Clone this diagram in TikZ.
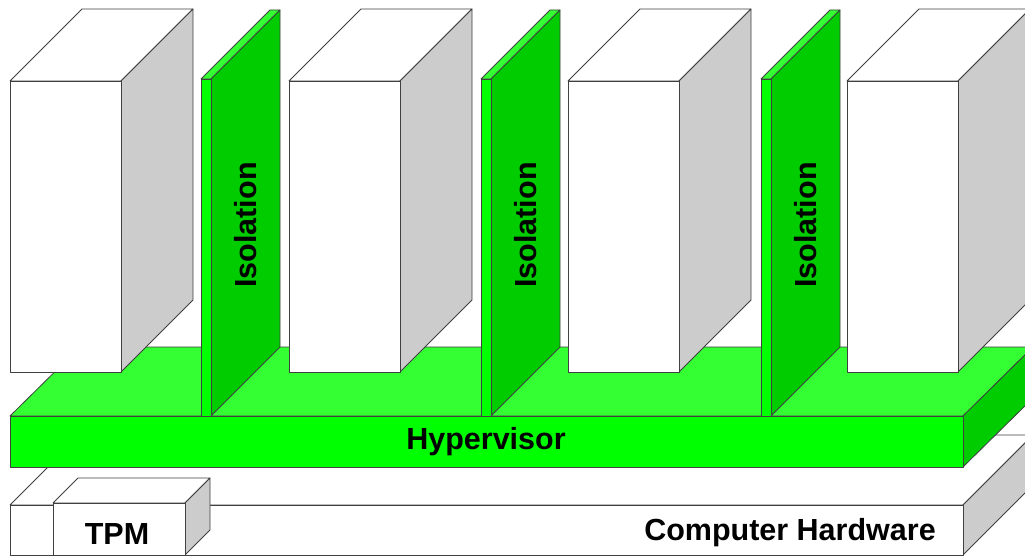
\documentclass[tikz,border=0pt]{standalone}
\usepackage{fontspec}
\setmainfont{Liberation Sans}
\definecolor{boxside}{HTML}{CCCCCC}
\definecolor{hvfront}{HTML}{00FF00}
\definecolor{hvtop}{HTML}{33FF33}
\definecolor{hvside}{HTML}{00CC00}
\definecolor{edge}{HTML}{404040}
\begin{document}
\begin{tikzpicture}[x=1pt,y=-1pt,
  face/.style={draw=edge,line width=0.8pt,line join=round},
  wface/.style={face,fill=white},
  gface/.style={face,fill=boxside},
  lbl/.style={font=\fontsize{30.5}{36}\selectfont\bfseries,inner sep=0pt,anchor=base}]
\useasboundingbox (0,0) rectangle (1025,556);
\clip (0,0) rectangle (1025,556);
% Computer hardware
\fill[white] (0,0) rectangle (1025,556);
\draw[wface] (10,505) -- (963,505) -- (1033,435) -- (80,435) -- cycle;
\draw[gface] (963,505) -- (1033,435) -- (1033,485) -- (963,555) -- cycle;
\draw[wface] (10,505) rectangle (963,555);
\node[lbl] (hw) at (790,540) {Computer Hardware};
% TPM
\draw[wface] (53,503) -- (185,503) -- (210,478) -- (78,478) -- cycle;
\draw[gface] (185,503) -- (210,478) -- (210,530) -- (185,555) -- cycle;
\draw[wface] (53,503) rectangle (185,555);
\node[lbl] (tpm) at (117,544) {TPM};
% Hypervisor
\draw[face,fill=hvtop] (10,416) -- (963,416) -- (1033,347) -- (80,347) -- cycle;
\draw[face,fill=hvside] (963,416) -- (1033,347) -- (1033,398) -- (963,467) -- cycle;
\draw[face,fill=hvfront] (10,416) rectangle (963,467);
\node[lbl] (hv) at (486,449) {Hypervisor};
% Boxes (virtual machines)
\foreach \x in {10,289,568,847}{
  \draw[wface] (\x,81) -- ({\x+111},81) -- ({\x+183},9) -- ({\x+72},9) -- cycle;
  \draw[gface] ({\x+111},81) -- ({\x+183},9) -- ({\x+183},300) -- ({\x+111},372) -- cycle;
  \draw[wface] (\x,81) rectangle ({\x+111},372);
}
% Isolation panels
\foreach \x/\n in {201/a,481/b,761/c}{
  \draw[face,fill=hvtop] (\x,79) -- ({\x+10},79) -- ({\x+79},10) -- ({\x+69},10) -- cycle;
  \draw[face,fill=hvside] ({\x+10},79) -- ({\x+79},10) -- ({\x+79},347) -- ({\x+10},416) -- cycle;
  \draw[face,fill=hvfront] (\x,79) rectangle ({\x+10},416);
  \node[lbl,rotate=90] (iso\n) at ({\x+55},225) {Isolation};
}
\end{tikzpicture}
\end{document}
